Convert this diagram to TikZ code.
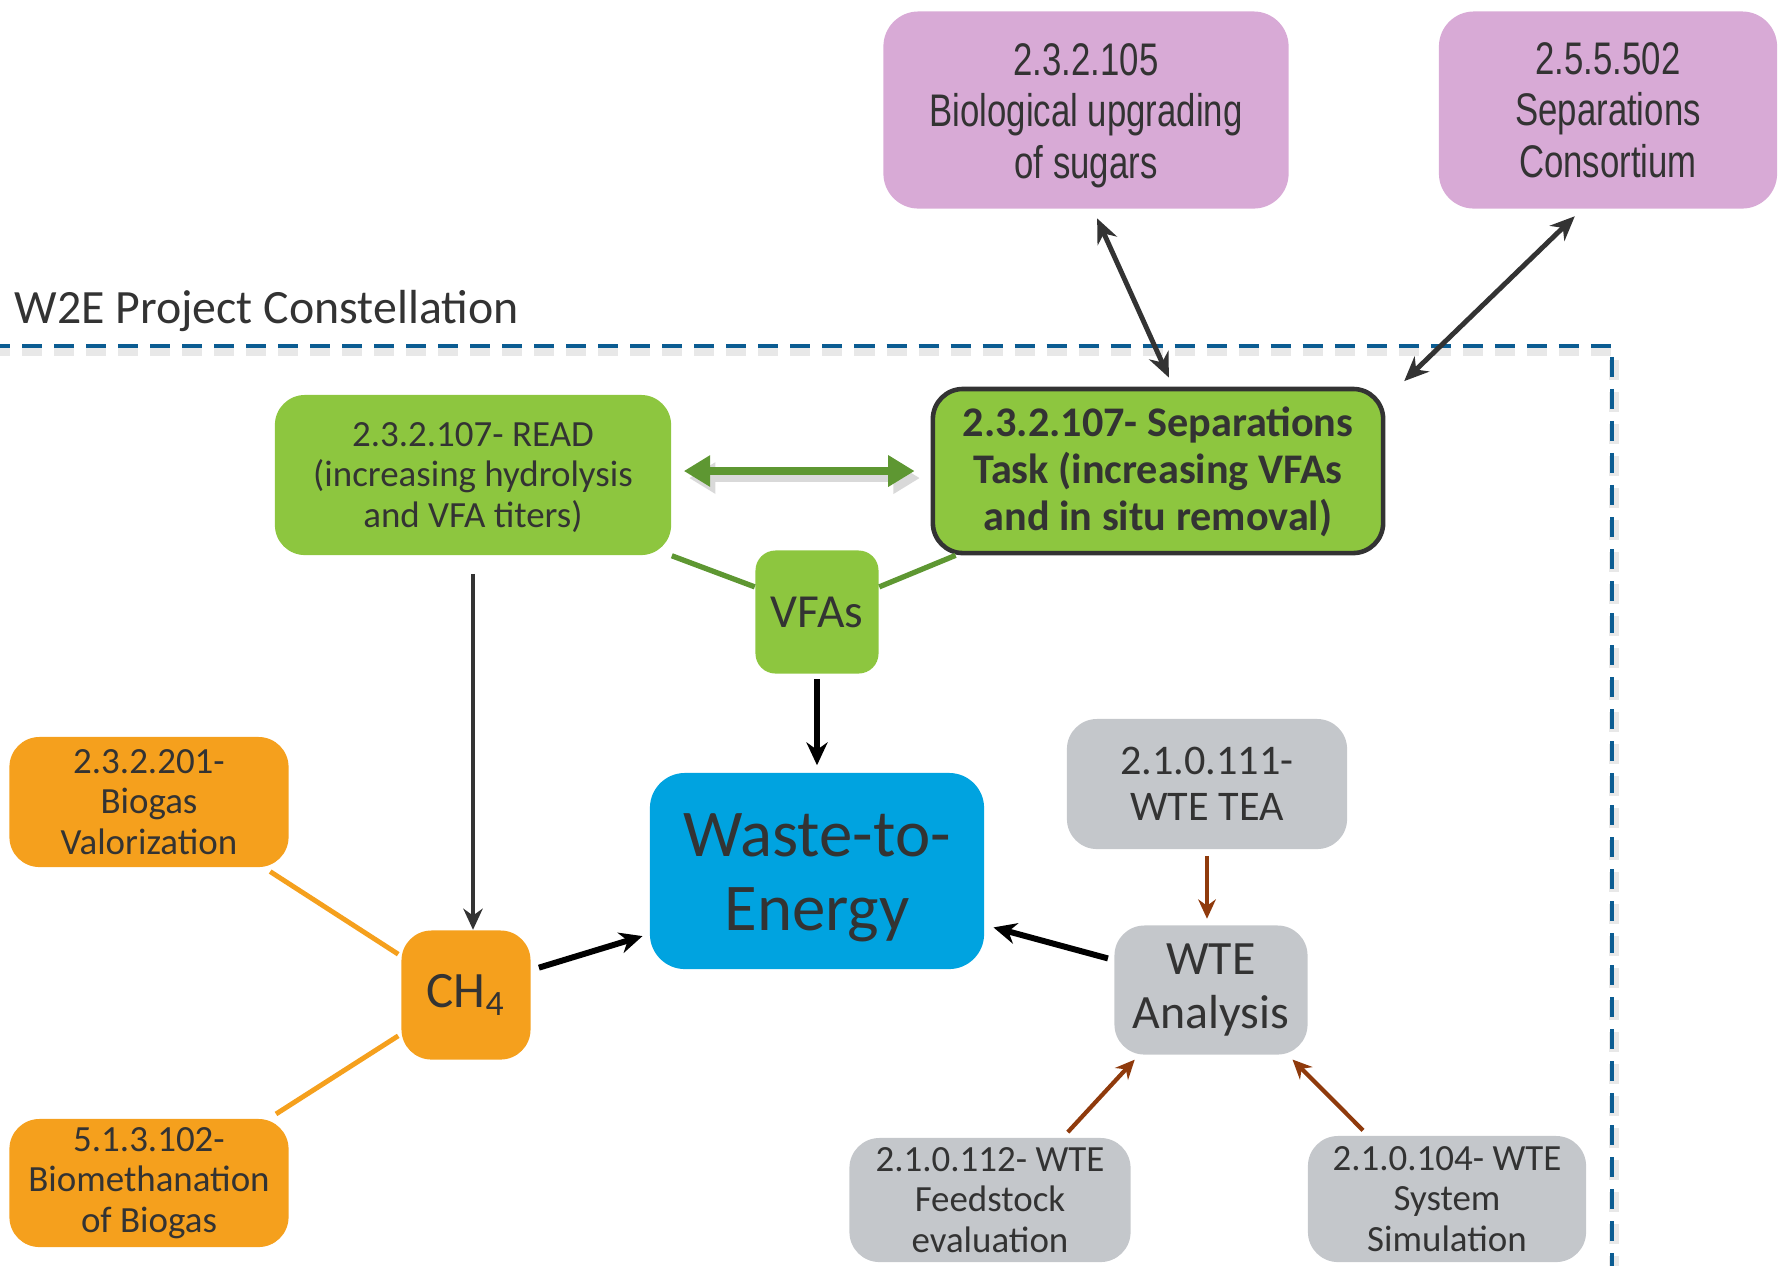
\documentclass[tikz,border=0pt]{standalone}
\usepackage{fontspec}
\setmainfont{Carlito}
\newfontfamily\narrowfont[FakeStretch=0.76]{Liberation Sans}
\usetikzlibrary{arrows.meta}
\definecolor{txtgray}{RGB}{51,51,51}
\definecolor{lilac}{RGB}{216,170,214}
\definecolor{leaf}{RGB}{141,198,63}
\definecolor{leafdark}{RGB}{94,151,50}
\definecolor{skyblue}{RGB}{0,163,224}
\definecolor{amber}{RGB}{245,160,29}
\definecolor{steel}{RGB}{196,199,203}
\definecolor{rust}{RGB}{143,58,12}
\definecolor{framedark}{RGB}{11,92,146}
\begin{document}
\begin{tikzpicture}[x=0.01cm,y=-0.01cm]
    \tikzset{every node/.style={text=txtgray, align=center, inner sep=0pt}}
    \tikzset{
        box/.style={rounded corners=0.3cm},
        purplebox/.style={box, fill=lilac, rounded corners=0.35cm, font=\narrowfont\fontsize{13}{14.6}\selectfont},
        greenbox/.style={box, fill=leaf},
        orangebox/.style={box, fill=amber, font=\fontsize{10.5}{11.5}\selectfont},
        graybox/.style={box, fill=steel},
        frame/.style={draw=framedark, line width=1pt, dash pattern=on 0.2cm off 0.12cm},
        frameshadow/.style={draw=black!9, line width=3pt, dash pattern=on 0.2cm off 0.12cm},
        blkarrow/.style={-{Stealth[length=6.5pt,width=6pt]}, line width=1.7pt, black},
        thinarrow/.style={-{Stealth[length=6pt,width=5.5pt]}, line width=1pt, txtgray},
        linkarrow/.style={{Stealth[length=7pt,width=6pt]}-{Stealth[length=7pt,width=6pt]}, line width=1.4pt, txtgray},
        brownarrow/.style={-{Stealth[length=5.5pt,width=5pt]}, line width=1.2pt, rust},
        greenarrow/.style={{Triangle[length=7.5pt,width=8.5pt]}-{Triangle[length=7.5pt,width=8.5pt]}, line width=2.2pt, leafdark},
        greenline/.style={line width=1.5pt, leafdark},
        orangeline/.style={line width=1.4pt, amber}
    }
    \useasboundingbox (0,0) rectangle (1779,1265);
    \clip (0,0) rectangle (1779,1265);

    % project frame
    \draw[frameshadow] (-10,351) -- (1614,351) -- (1614,1300);
    \draw[frame] (-10,346) -- (1612,346) -- (1612,1300);
    \node[anchor=base west, font=\fontsize{13.6}{16}\selectfont] (title) at (14,323) {W2E Project Constellation};

    % outside projects
    \node[purplebox, minimum width=4.05cm, minimum height=1.97cm] (sugars) at (1086,110) {\rule{0pt}{12.3pt}2.3.2.105\\Biological upgrading\\of sugars};
    \node[purplebox, minimum width=3.38cm, minimum height=1.97cm] (consort) at (1608,110) {2.5.5.502\\Separations\\Consortium};

    % VFA branch
    \node[greenbox, minimum width=3.96cm, minimum height=1.60cm, font=\fontsize{10.5}{11.6}\selectfont] (read) at (473,475) {\rule{0pt}{8.2pt}2.3.2.107- READ\\(increasing hydrolysis\\and VFA titers)};
    \node[greenbox, draw=txtgray, line width=1.3pt, minimum width=4.5cm, minimum height=1.64cm, font=\bfseries\fontsize{12}{13.4}\selectfont] (septask) at (1158,471) {\rule{0pt}{9.1pt}2.3.2.107- Separations\\Task (increasing VFAs\\and in situ removal)};
    \node[greenbox, rounded corners=0.2cm, minimum size=1.23cm, font=\fontsize{13.5}{15}\selectfont] (vfas) at (817,612) {VFAs};

    % centre
    \node[fill=skyblue, rounded corners=0.35cm, minimum width=3.34cm, minimum height=1.96cm, font=\fontsize{19}{21}\selectfont] (wte) at (817,871) {\rule{0pt}{16pt}Waste-to-\\Energy};

    % methane branch
    \node[orangebox, minimum size=1.29cm, font=\fontsize{14.5}{16}\selectfont] (methane) at (466,995) {CH\textsubscript{4}};
    \node[orangebox, minimum width=2.79cm, minimum height=1.30cm] (biogas) at (149,802) {2.3.2.201-\\Biogas\\Valorization};
    \node[orangebox, minimum width=2.79cm, minimum height=1.28cm] (biometh) at (149,1183) {5.1.3.102-\\Biomethanation\\of Biogas};

    % analysis branch
    \node[graybox, minimum width=2.80cm, minimum height=1.30cm, font=\fontsize{12}{13.2}\selectfont] (tea) at (1207,784) {2.1.0.111-\\WTE TEA};
    \node[graybox, minimum width=1.93cm, minimum height=1.29cm, font=\fontsize{13.6}{15.5}\selectfont] (analysis) at (1211,990) {WTE\\Analysis};
    \node[graybox, minimum width=2.81cm, minimum height=1.24cm, font=\fontsize{10.5}{11.6}\selectfont] (feed) at (990,1200) {2.1.0.112- WTE\\Feedstock\\evaluation};
    \node[graybox, minimum width=2.78cm, minimum height=1.26cm, font=\fontsize{10.5}{11.6}\selectfont] (sim) at (1447,1199) {2.1.0.104- WTE\\System\\Simulation};

    % links
    \draw[linkarrow, shorten <=0.1cm, shorten >=0.1cm] ([xshift=0.07cm]sugars.south) -- ([xshift=0.15cm]septask.north);
    \draw[linkarrow, shorten <=0.1cm, shorten >=0.08cm] ([xshift=-0.26cm]consort.south) -- ([xshift=0.13cm]septask.north east);
    \draw[greenarrow, draw=black!15, fill=black!15, transform canvas={shift={(1.5pt,-2pt)}}, shorten <=0.12cm, shorten >=0.16cm] (septask.west -| read.east) -- (septask.west);
    \draw[greenarrow, shorten <=0.12cm, shorten >=0.16cm] (septask.west -| read.east) -- (septask.west);
    \draw[greenline] (read.south east) -- (vfas.158);
    \draw[greenline] (vfas.22) -- ([xshift=0.25cm]septask.south west);
    \draw[thinarrow, shorten <=0.18cm] (read.south) -- (read.south |- methane.north);
    \draw[blkarrow, shorten <=0.05cm, shorten >=0.07cm] (vfas.south) -- (wte.north);
    \draw[orangeline, shorten <=0.07cm, shorten >=0.03cm] ([xshift=-0.25cm]biogas.south east) -- (methane.149);
    \draw[orangeline, shorten <=0.03cm, shorten >=0.08cm] (methane.211) -- ([xshift=-0.2cm]biometh.north east);
    \draw[blkarrow, shorten <=0.08cm, shorten >=0.07cm] ([yshift=0.25cm]methane.east) -- ([yshift=-0.63cm]wte.west);
    \draw[blkarrow, shorten <=0.06cm, shorten >=0.09cm] ([yshift=0.3cm]analysis.west) -- ([yshift=-0.54cm]wte.east);
    \draw[brownarrow, shorten <=0.06cm, shorten >=0.06cm] (tea.south) -- (tea.south |- analysis.north);
    \draw[brownarrow, shorten <=0.07cm, shorten >=0.06cm] ([xshift=0.73cm]feed.north) -- ([xshift=0.25cm]analysis.south west);
    \draw[brownarrow, shorten <=0.07cm, shorten >=0.06cm] ([xshift=-0.79cm]sim.north) -- ([xshift=-0.2cm]analysis.south east);
\end{tikzpicture}
\end{document}
